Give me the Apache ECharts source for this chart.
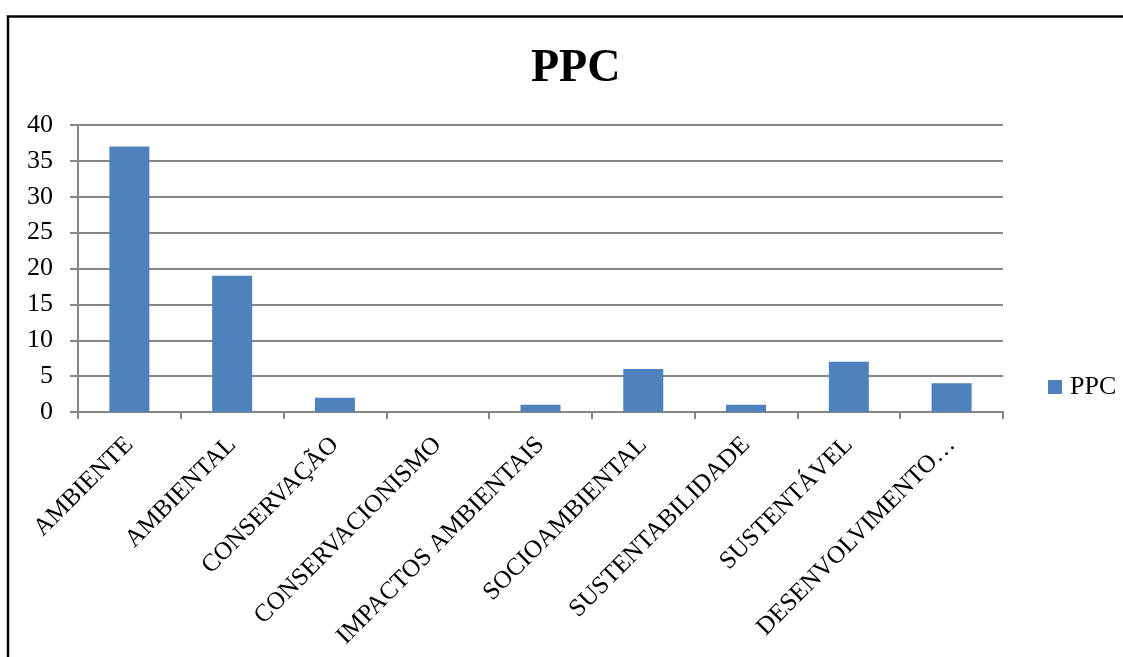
<!DOCTYPE html>
<html>
<head>
<meta charset="utf-8">
<script src="https://cdn.jsdelivr.net/npm/echarts@6/dist/echarts.min.js"></script>
<style>
  html, body { margin: 0; padding: 0; background: #fff; }
  #chart { width: 1123px; height: 657px; }
</style>
</head>
<body>
<div id="chart"></div>
<script>
// Term frequency in the PPC documents
const categories = [
  'AMBIENTE', 'AMBIENTAL', 'CONSERVAÇÃO', 'CONSERVACIONISMO',
  'IMPACTOS AMBIENTAIS', 'SOCIOAMBIENTAL', 'SUSTENTABILIDADE',
  'SUSTENTÁVEL', 'DESENVOLVIMENTO…'
];
const seriesName = 'PPC';
const values = [37, 19, 2, 0, 1, 6, 1, 7, 4];
const yTicks = { min: 0, max: 40, interval: 5 };

const serif = '"Liberation Serif", "DejaVu Serif", serif';
const chart = echarts.init(document.getElementById('chart'), null, { renderer: 'canvas' });

chart.setOption({
  backgroundColor: '#ffffff',
  animation: false,
  title: {
    text: 'PPC',
    left: 526,
    top: 41,
    textStyle: { fontFamily: serif, fontWeight: 'bold', fontSize: 46, color: '#000' }
  },
  legend: {
    data: [seriesName],
    orient: 'vertical',
    left: 1043,
    top: 369,
    icon: 'rect',
    itemWidth: 14,
    itemHeight: 14,
    itemGap: 8,
    textStyle: { fontFamily: serif, fontSize: 26, color: '#000', padding: [0, 0, 0, 3] }
  },
  grid: {
    left: 78, right: 120, top: 125, bottom: 245,
    containLabel: false,
    outerBoundsMode: 'none'
  },
  xAxis: {
    type: 'category',
    data: categories,
    axisLine: { lineStyle: { color: '#868686', width: 2 } },
    axisTick: { show: true, length: 7, lineStyle: { color: '#868686', width: 2 } },
    axisLabel: {
      rotate: 45,
      interval: 0,
      margin: 29,
      fontFamily: serif,
      fontSize: 25,
      color: '#000'
    }
  },
  yAxis: {
    type: 'value',
    min: yTicks.min,
    max: yTicks.max,
    interval: yTicks.interval,
    axisLine: { show: true, lineStyle: { color: '#868686', width: 2 } },
    axisTick: { show: true, length: 8, lineStyle: { color: '#868686', width: 2 } },
    splitLine: { lineStyle: { color: '#868686', width: 2 } },
    axisLabel: { fontFamily: serif, fontSize: 26, color: '#000', margin: 25 }
  },
  series: [{
    name: seriesName,
    type: 'bar',
    data: values,
    barWidth: 40,
    itemStyle: { color: '#4F81BD' }
  }],
  graphic: [{
    type: 'polyline',
    shape: { points: [[8, 700], [8, 16.5], [1130, 16.5]] },
    style: { stroke: '#000', lineWidth: 2.5, fill: null },
    silent: true
  }]
});
</script>
</body>
</html>
